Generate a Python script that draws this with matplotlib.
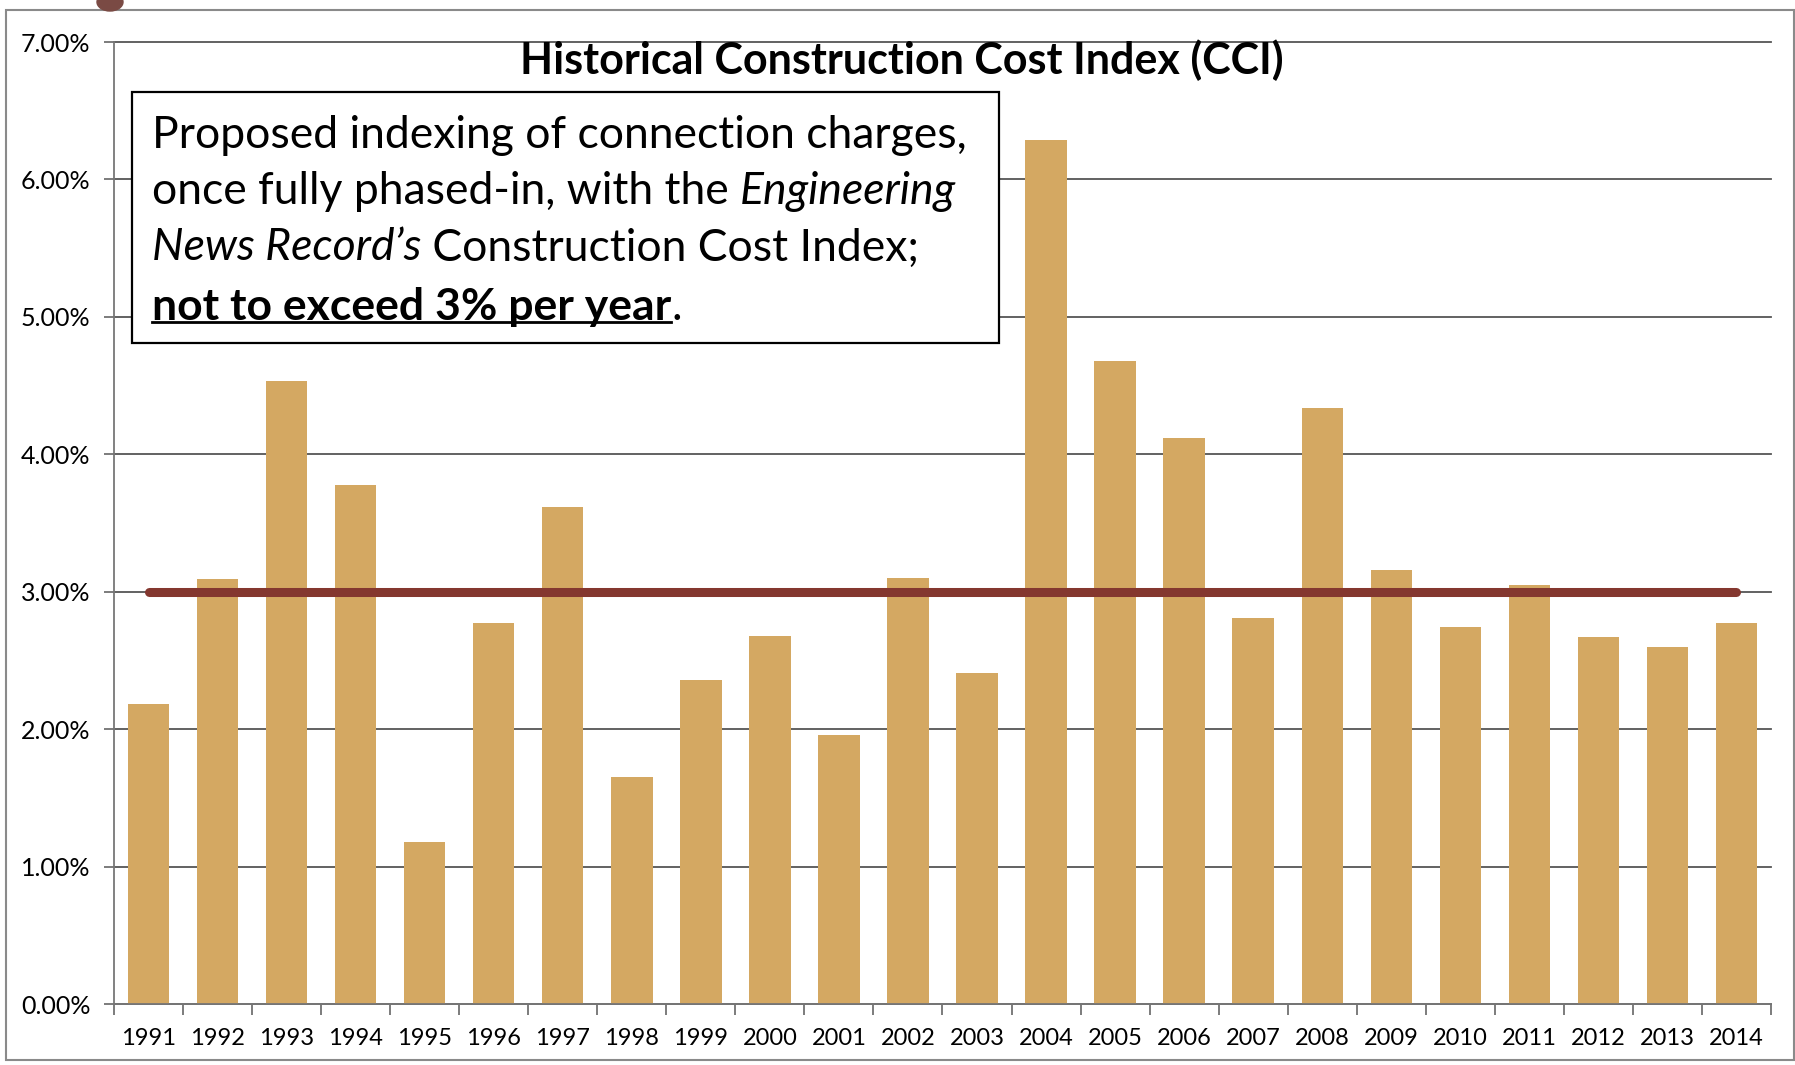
import matplotlib
matplotlib.use('Agg')
import matplotlib.pyplot as plt
from matplotlib.patches import Rectangle, Ellipse
from matplotlib.lines import Line2D
from matplotlib.text import Annotation
import numpy as np

# data
years = [str(y) for y in range(1991, 2015)]
cci = [2.18, 3.09, 4.53, 3.78, 1.18, 2.77, 3.62, 1.65, 2.36, 2.68, 1.96, 3.10,
       2.41, 6.29, 4.68, 4.12, 2.81, 4.34, 3.16, 2.74, 3.05, 2.67, 2.60, 2.77]
cap = 3.0
y_ticks = [0, 1, 2, 3, 4, 5, 6, 7]

W, H = 1795, 1065
plt.rcParams['font.family'] = ['Lato', 'DejaVu Sans']

fig = plt.figure(figsize=(W / 100, H / 100), dpi=100)
ax = fig.add_axes([114 / W, 1 - 1004 / H, (1771 - 114) / W, (1004 - 42) / H])

x = np.arange(len(years))
ax.bar(x, cci, width=0.6, color='#D4A862', zorder=2)
ax.plot([x[0], x[-1]], [cap, cap], color='#84372F', lw=6.5,
        solid_capstyle='round', zorder=3)

ax.set_xlim(-0.5, len(years) - 0.5)
ax.set_ylim(0, 7)
ax.set_yticks(y_ticks)
ax.set_yticklabels([f'{v:.2f}%' for v in y_ticks])
ax.set_xticks(x)
ax.set_xticklabels(years)
ax.set_xticks(np.arange(-0.5, len(years)), minor=True)
ax.tick_params(axis='x', which='major', length=0, pad=17, labelsize=17)
ax.tick_params(axis='x', which='minor', length=8, color='#666666', width=1.2)
ax.tick_params(axis='y', length=7, color='#666666', width=1.2, pad=10, labelsize=18)
ax.yaxis.grid(True, color='#555555', lw=1.3, clip_on=False)
ax.set_axisbelow(True)
for s in ['top', 'right']:
    ax.spines[s].set_visible(False)
ax.spines['left'].set_color('#777777')
ax.spines['bottom'].set_color('#777777')
ax.spines['left'].set_linewidth(1.3)
ax.spines['bottom'].set_linewidth(1.3)

# title
fig.text(902 / W, 1 - 60 / H, 'Historical Construction Cost Index (CCI)',
         ha='center', va='center', fontsize=31, fontweight='bold', zorder=6)

# annotation box
fig.add_artist(Rectangle((132 / W, 1 - 343 / H), (999 - 132) / W, (343 - 92) / H,
                         transform=fig.transFigure, facecolor='white',
                         edgecolor='black', lw=1.6, zorder=5))

fs = 32
lines = [
    [('Proposed indexing of connection charges,', 'normal', 'normal')],
    [('once fully phased-in, with the ', 'normal', 'normal'),
     ('Engineering', 'italic', 'normal')],
    [('News Record\u2019s', 'italic', 'normal'),
     (' Construction Cost Index;', 'normal', 'normal')],
    [('not to exceed 3% per year', 'normal', 'bold'),
     ('.', 'normal', 'normal')],
]
line_y = [136, 192, 248, 307]
bold_txt = None
for parts, yy in zip(lines, line_y):
    prev = None
    for txt, style, weight in parts:
        if prev is None:
            t = fig.text(152 / W, 1 - yy / H, txt, ha='left', va='center',
                         fontsize=fs, style=style, fontweight=weight, zorder=6)
        else:
            t = Annotation(txt, xy=(1, 0.5), xycoords=prev, ha='left', va='center',
                           fontsize=fs, style=style, fontweight=weight,
                           annotation_clip=False)
            t.set_zorder(6)
            fig.add_artist(t)
        if weight == 'bold':
            bold_txt = t
        prev = t

# outer frame of the scanned page
fig.add_artist(Rectangle((6 / W, 5 / H), (W - 7) / W, (H - 15) / H,
                         transform=fig.transFigure, fill=False,
                         edgecolor='#8a8a8a', lw=1.5, zorder=1))
fig.add_artist(Ellipse((110 / W, 1 - 2 / H), 26 / W, 18 / H,
                       transform=fig.transFigure, color='#7a4a44', zorder=1))

# underline the bold part
fig.canvas.draw()
bb = bold_txt.get_window_extent()
uy = bb.y0 + 0.12 * bb.height
fig.add_artist(Line2D([bb.x0, bb.x1], [uy, uy], transform=None,
                      color='black', lw=2, zorder=7))

fig.savefig('out.png', dpi=100)
